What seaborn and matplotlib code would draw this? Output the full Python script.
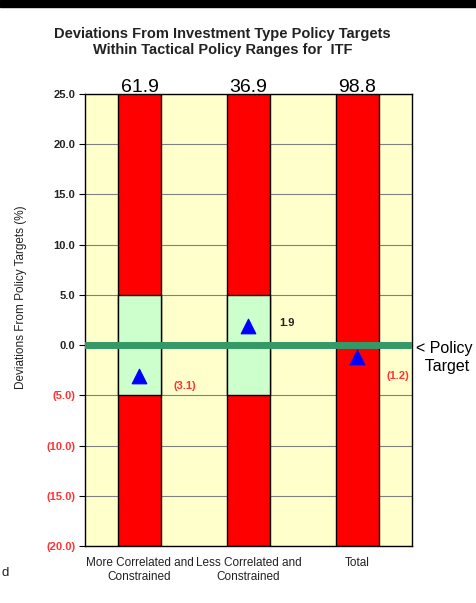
import matplotlib
matplotlib.use("Agg")
import matplotlib.pyplot as plt
import matplotlib.patches as mpatches
import seaborn as sns
import pandas as pd
import numpy as np

categories = ["More Correlated and\nConstrained", "Less Correlated and\nConstrained", "Total"]
range_top_values = [61.9, 36.9, 98.8]      # top of red policy-range bars (labels)
range_bottom_values = [-20.0, -20.0, -20.0]
tactical_upper = [5.0, 5.0, 0.0]
tactical_lower = [-5.0, -5.0, 0.0]
deviations = [-3.1, 1.9, -1.2]
dev_labels = ["(3.1)", "1.9", "(1.2)"]
yticks = [25, 20, 15, 10, 5, 0, -5, -10, -15, -20]

sns.set_theme(style="white")
plt.rcParams['font.family'] = ['Liberation Sans', 'DejaVu Sans']

fig = plt.figure(figsize=(4.77, 6.03), dpi=100)
ax = fig.add_axes([85/477, 1-546/603, 327/477, 452/603])
ax.set_facecolor("#FFFFCC")

df = pd.DataFrame({"cat": categories, "top": range_top_values, "bot": range_bottom_values,
                   "tu": tactical_upper, "tl": tactical_lower, "dev": deviations})

for col in ["top", "bot"]:
    sns.barplot(data=df, x="cat", y=col, color="#FF0000", width=0.4, edgecolor="black",
                linewidth=1.0, saturation=1, ax=ax, zorder=2)
for col in ["tu", "tl"]:
    sns.barplot(data=df, x="cat", y=col, color="#CCFFCC", width=0.4, edgecolor="black",
                linewidth=1.0, saturation=1, ax=ax, zorder=3)

ax.axhline(0, color="#339966", linewidth=5, zorder=4)
sns.scatterplot(data=df, x="cat", y="dev", marker="^", color="#0000FF", s=110,
                edgecolor="#0000FF", ax=ax, zorder=5, legend=False)

ax.set_ylim(-20, 25)
ax.set_xlim(-0.5, 2.5)
ax.set_yticks(yticks)
ax.yaxis.grid(True, color="#808080", linewidth=0.8, zorder=0)
ax.set_axisbelow(True)
ax.set_yticklabels([f"{v:.1f}" if v >= 0 else f"({-v:.1f})" for v in yticks],
                   fontsize=8, fontweight="bold")
for lbl, v in zip(ax.get_yticklabels(), yticks):
    lbl.set_color("#FF3333" if v < 0 else "#222222")
ax.tick_params(axis="y", left=True, length=4, width=0.8, color="black", pad=3)
ax.tick_params(axis="x", bottom=False, labelsize=8.5, pad=2, colors="#222222")
for s in ax.spines.values():
    s.set_color("black")
    s.set_linewidth(1.0)
ax.set_xlabel("")
ax.set_ylabel("Deviations From Policy Targets (%)", fontsize=8.5, color="#222222")
ax.yaxis.set_label_coords(-0.178, 0.551)

for i, v in enumerate(range_top_values):
    ax.text(i, 24.85, f"{v:.1f}", ha="center", va="bottom", fontsize=14, color="black")

offsets = [(0.42, -1.0), (0.35, 0.3), (0.37, -1.9)]
for i, (lab, v) in enumerate(zip(dev_labels, deviations)):
    dx, dy = offsets[i]
    ax.text(i + dx, v + dy, lab, ha="center", va="center", fontsize=8, fontweight="bold",
            color="#FF3333" if v < 0 else "#222222")

fig.text(416/477, 1-357/603, "< Policy\n  Target", ha="left", va="center", fontsize=11.5,
         linespacing=1.25, color="black")

fig.text(0.466, 1-42/603, "Deviations From Investment Type Policy Targets\nWithin Tactical Policy Ranges for  ITF",
         ha="center", va="center", fontsize=10.5, fontweight="bold", color="#222222", linespacing=1.2)

fig.patches.append(mpatches.Rectangle((0, 1-7/603), 1, 7/603, transform=fig.transFigure,
                                      color="black", zorder=10))
fig.text(0.003, 1-573/603, "d", ha="left", va="center", fontsize=9.5, color="#222222")

fig.savefig("out.png", dpi=100)
